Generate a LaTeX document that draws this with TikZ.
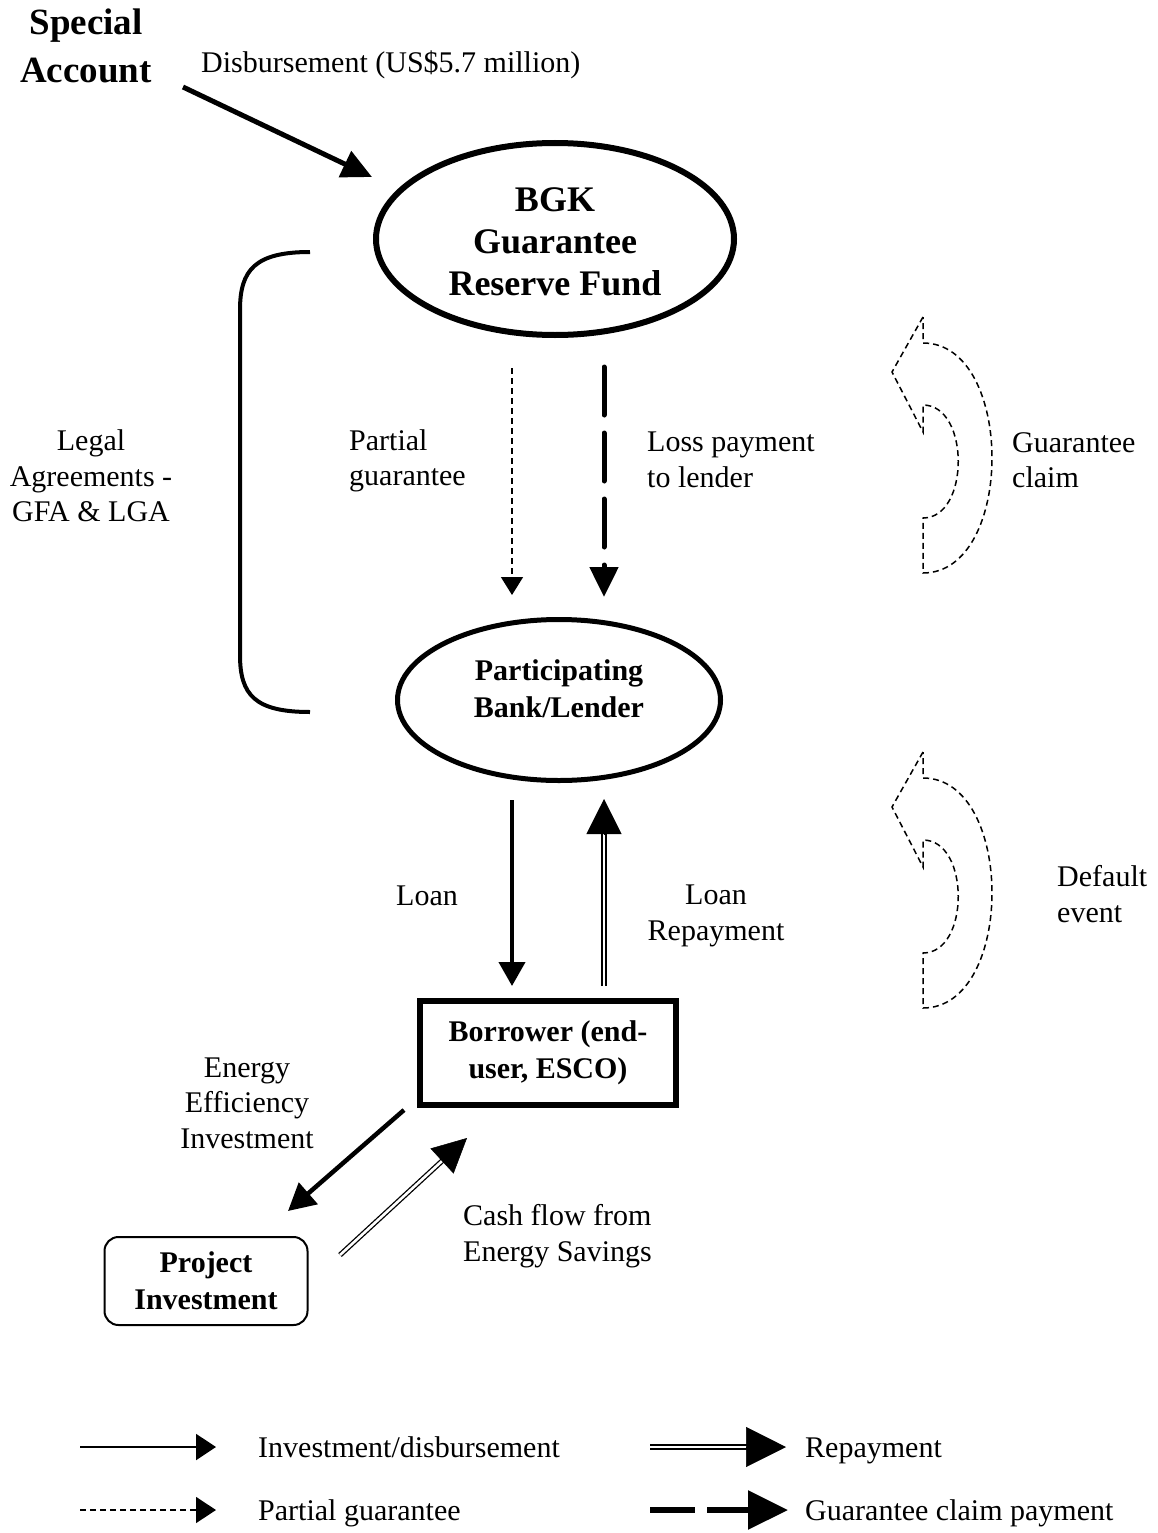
\documentclass[tikz,border=0pt]{standalone}
\usepackage{fontspec}
\setmainfont{Liberation Serif}
\usetikzlibrary{calc}
\usetikzlibrary{positioning}
\usetikzlibrary{shapes.geometric}
\usetikzlibrary{arrows.meta}
% bent dashed arrow, #1 name, #2 vertical offset
\newcommand*\bentarrow[2]{%
    \begin{scope}[shift={(0,#2)}]%
        \draw[claim outline] (923,317) -- (892,372) -- (923,432) -- (923,405)
            .. controls (970,405) and (970,518) .. (923,518) -- (923,573)
            .. controls (1015,573) and (1015,343) .. (923,343) -- cycle;
        \coordinate (#1) at (960,458);%
    \end{scope}%
}
% double shaft with a solid head
\newcommand*\repayment[3]{%
    \draw[repay, shorten >=#3-2pt] (#1) -- (#2);%
    \draw[repay head, -{Triangle[length=#3,width=#3]}] ($(#2)!#3!(#1)$) -- (#2);%
}

\begin{document}
\begin{tikzpicture}
    [%
        x=1pt,y=-1pt,%
        fund/.style={%
            draw,%
            ellipse,%
            line width=6pt,%
            minimum width=358pt,%
            minimum height=192pt,%
            inner sep=0pt%
        },%
        bank/.style={%
            draw,%
            ellipse,%
            line width=5pt,%
            minimum width=323pt,%
            minimum height=161pt,%
            inner sep=0pt%
        },%
        borrower box/.style={%
            draw,%
            line width=6pt,%
            minimum width=256pt,%
            minimum height=104pt,%
            inner sep=0pt%
        },%
        project box/.style={%
            draw,%
            rounded corners=14pt,%
            line width=2pt,%
            minimum width=203pt,%
            minimum height=88pt,%
            inner sep=0pt%
        },%
        label/.style={%
            font=\fontsize{30}{35.5}\selectfont,%
            align=center,%
            inner sep=0pt%
        },%
        head text/.style={%
            font=\fontsize{36}{42}\selectfont\bfseries,%
            align=center,%
            inner sep=0pt%
        },%
        box text/.style={%
            font=\fontsize{30}{37}\selectfont\bfseries,%
            align=center,%
            inner sep=0pt%
        },%
        invest/.style={%
            line width=4pt,%
            -{Triangle[length=24pt,width=26pt]}%
        },%
        guarantee/.style={%
            line width=1.5pt,%
            dash pattern=on 6pt off 4pt,%
            -{Triangle[length=18pt,width=22pt]}%
        },%
        claim pay/.style={%
            line width=5pt,%
            line cap=round,%
            dash pattern=on 48pt off 18pt,%
            -{Triangle[length=30pt,width=28pt]}%
        },%
        repay/.style={%
            double,%
            double distance=2.6pt,%
            line width=1.3pt%
        },%
        repay head/.style={%
            line width=0.5pt%
        },%
        claim outline/.style={%
            line width=1.5pt,%
            dash pattern=on 6pt off 4pt%
        }%
    ]%
    \useasboundingbox (0,0) rectangle (1157,1533);
%
    % the funds and parties
    \node[fund] (bgk) at (555,239) {};
    \node[head text] (bgk-text) at (555,242) {BGK\\Guarantee\\Reserve Fund};
    \node[bank] (bank) at (559,700) {};
    \node[box text] (bank-text) at (559,689) {Participating\\Bank/Lender};
    \node[borrower box, box text] (borrower) at (548,1053) {Borrower (end-\\user, ESCO)};
    \node[project box, box text] (project) at (206,1281) {Project\\Investment};
    \node[font=\fontsize{37}{48}\selectfont\bfseries, align=center, inner sep=0pt]
        (special) at (86,46) {Special\\Account};
%
    % disbursement into the fund
    \coordinate (special-out) at (183,87);
    \coordinate (bgk-in) at (372,177);
    \draw[line width=5pt, -{Triangle[length=30pt,width=28pt]}] (special-out) -- (bgk-in);
    \node[label, anchor=west] (disb-label) at (201,65) {Disbursement (US\$5.7 million)};
%
    % legal agreements bracket
    \coordinate (legal-top) at (310,252);
    \coordinate (legal-bottom) at (310,712);
    \draw[line width=4pt] (legal-top) .. controls (255,252) and (240,270) .. (240,310)
        -- (240,655) .. controls (240,695) and (255,712) .. (legal-bottom);
    \node[label] (legal-label) at (91,476) {Legal\\Agreements -\\GFA \& LGA};
%
    % guarantee and loss payment
    \coordinate (pg-start) at (512,368);
    \coordinate (pg-end) at (512,595);
    \coordinate (loss-start) at (604,367);
    \coordinate (loss-end) at (604,597);
    \draw[guarantee] (pg-start) -- (pg-end);
    \draw[claim pay] (loss-start) -- (loss-end);
    \node[label, anchor=west, align=left] (pg-label) at (349,461) {Partial\\guarantee};
    \node[label, anchor=west, align=left] (loss-label) at (647,460) {Loss payment\\to lender};
%
    % loan and repayment
    \coordinate (loan-start) at (512,800);
    \coordinate (loan-end) at (512,986);
    \coordinate (repay-start) at (604,986);
    \coordinate (repay-end) at (604,799);
    \draw[invest] (loan-start) -- (loan-end);
    \repayment{repay-start}{repay-end}{35pt}
    \node[label] (loan-label) at (427,896) {Loan};
    \node[label] (repay-label) at (716,916) {Loan\\Repayment};
%
    % claim and default arrows
    \bentarrow{claim}{0}
    \bentarrow{default}{435}
    \node[label, anchor=west, align=left] (claim-label) at (1012,460) {Guarantee\\claim};
    \node[label, anchor=west, align=left] (default-label) at (1057,894) {Default\\event};
%
    % investment and savings
    \coordinate (ee-start) at (404,1110);
    \coordinate (ee-end) at (288,1211);
    \coordinate (cash-start) at (340,1255);
    \coordinate (cash-end) at (467,1138);
    \draw[line width=4.5pt, -{Triangle[length=27pt,width=28pt]}] (ee-start) -- (ee-end);
    \repayment{cash-start}{cash-end}{34pt}
    \node[label] (ee-label) at (247,1103) {Energy\\Efficiency\\Investment};
    \node[label, anchor=west, align=left] (cash-label) at (463,1236) {Cash flow from\\Energy Savings};
%
    % legend
    \foreach \key/\x/\y in {inv/80/1447,rep/650/1447,pg/80/1510,gc/650/1510} {
        \coordinate (\key-a) at (\x,\y);
    }
    \coordinate (inv-b) at (216,1447);
    \coordinate (pg-b) at (216,1510);
    \coordinate (rep-b) at (786,1447);
    \coordinate (gc-b) at (788,1510);
    \draw[line width=2pt, -{Triangle[length=20pt,width=26pt]}] (inv-a) -- (inv-b);
    \draw[line width=1.5pt, dash pattern=on 6pt off 4pt, -{Triangle[length=20pt,width=26pt]}] (pg-a) -- (pg-b);
    \repayment{rep-a}{rep-b}{40pt}
    \draw[line width=6pt, dash pattern=on 45pt off 12pt, -{Triangle[length=40pt,width=38pt]}] (gc-a) -- (gc-b);
    \node[label, anchor=base west] (inv-text) at (258,1457) {Investment/disbursement};
    \node[label, anchor=base west] (rep-text) at (805,1457) {Repayment};
    \node[label, anchor=base west] (pg-text) at (258,1520) {Partial guarantee};
    \node[label, anchor=base west] (gc-text) at (805,1520) {Guarantee claim payment};
\end{tikzpicture}
\end{document}
